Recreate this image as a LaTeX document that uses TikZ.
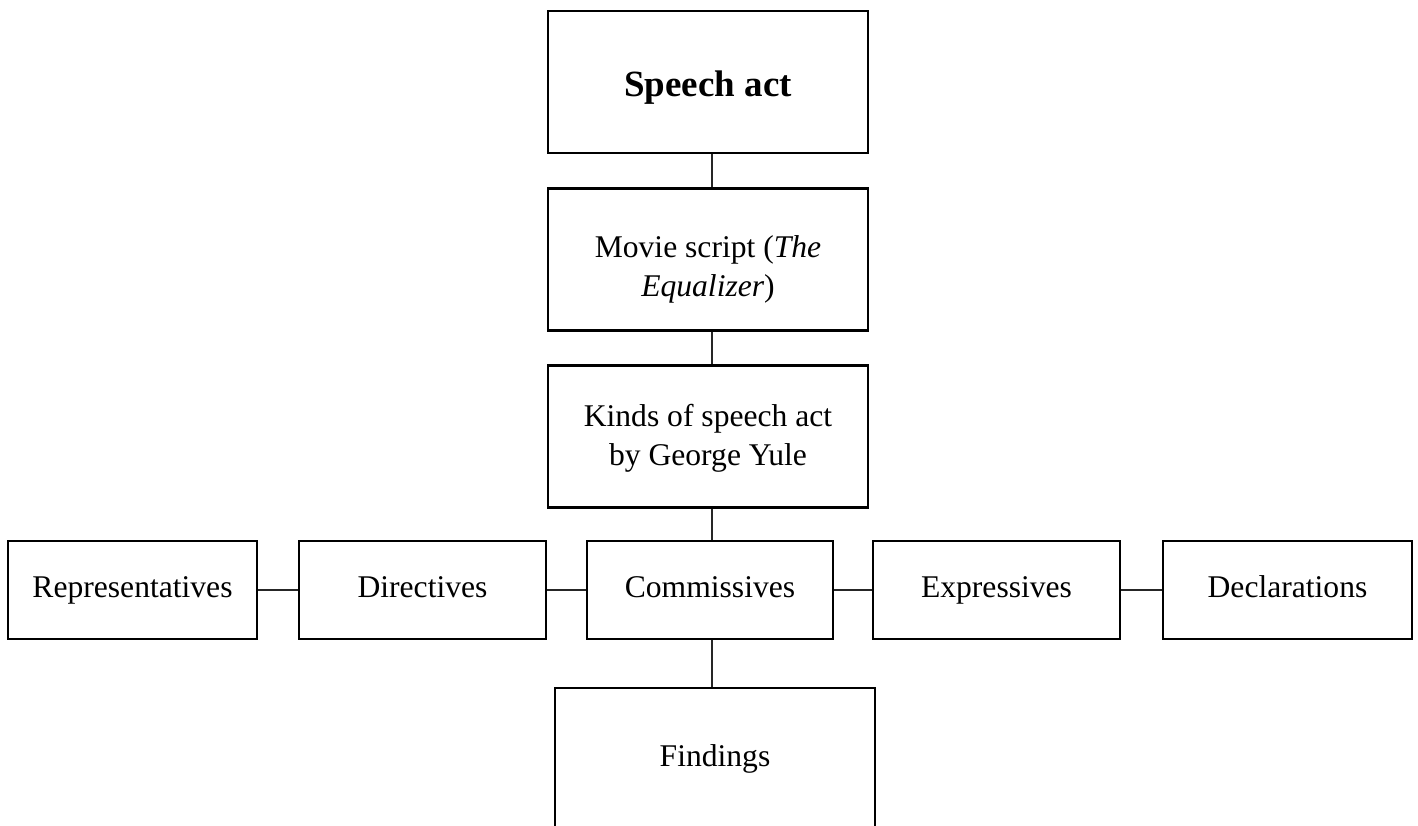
\documentclass[tikz,border=0pt]{standalone}
\usepackage{fontspec}
\setmainfont{Liberation Serif}
\begin{document}
\begin{tikzpicture}[x=1pt,y=-1pt,
  box/.style={draw=black,line width=2.2pt,rectangle,inner sep=0pt,align=center,
    font=\fontsize{31.6}{38.5}\selectfont},
  bigbox/.style={box,minimum width=320pt,minimum height=142pt},
  rowbox/.style={box,minimum height=98pt,text height=22pt,text depth=7pt},
  link/.style={draw=black!85,line width=1.2pt}]
\useasboundingbox (0,0) rectangle (1418,826);
\node[bigbox,font=\fontsize{37}{44}\selectfont\bfseries] (speech) at (708,82) {\rule{0pt}{37pt}Speech act};
\node[bigbox] (movie) at (708,259.5) {\rule{0pt}{42pt}Movie script (\textit{The}\\\textit{Equalizer})};
\node[bigbox] (kinds) at (708,436.5) {\rule{0pt}{26pt}Kinds of speech act\\by George Yule};
\node[rowbox,minimum width=249pt] (rep) at (132.5,590) {Representatives};
\node[rowbox,minimum width=247pt] (dir) at (422.5,590) {Directives};
\node[rowbox,minimum width=246pt] (com) at (710,590) {Commissives};
\node[rowbox,minimum width=247pt] (exp) at (996.5,590) {Expressives};
\node[rowbox,minimum width=249pt] (dec) at (1287.5,590) {Declarations};
\node[bigbox] (find) at (715,759) {Findings};
\coordinate (spine) at (712,0);
\draw[link] (speech.south -| spine) -- (movie.north -| spine);
\draw[link] (movie.south -| spine) -- (kinds.north -| spine);
\draw[link] (kinds.south -| spine) -- (com.north -| spine);
\draw[link] (com.south -| spine) -- (find.north -| spine);
\draw[link] (rep.east) -- (dir.west);
\draw[link] (dir.east) -- (com.west);
\draw[link] (com.east) -- (exp.west);
\draw[link] (exp.east) -- (dec.west);
\end{tikzpicture}
\end{document}
